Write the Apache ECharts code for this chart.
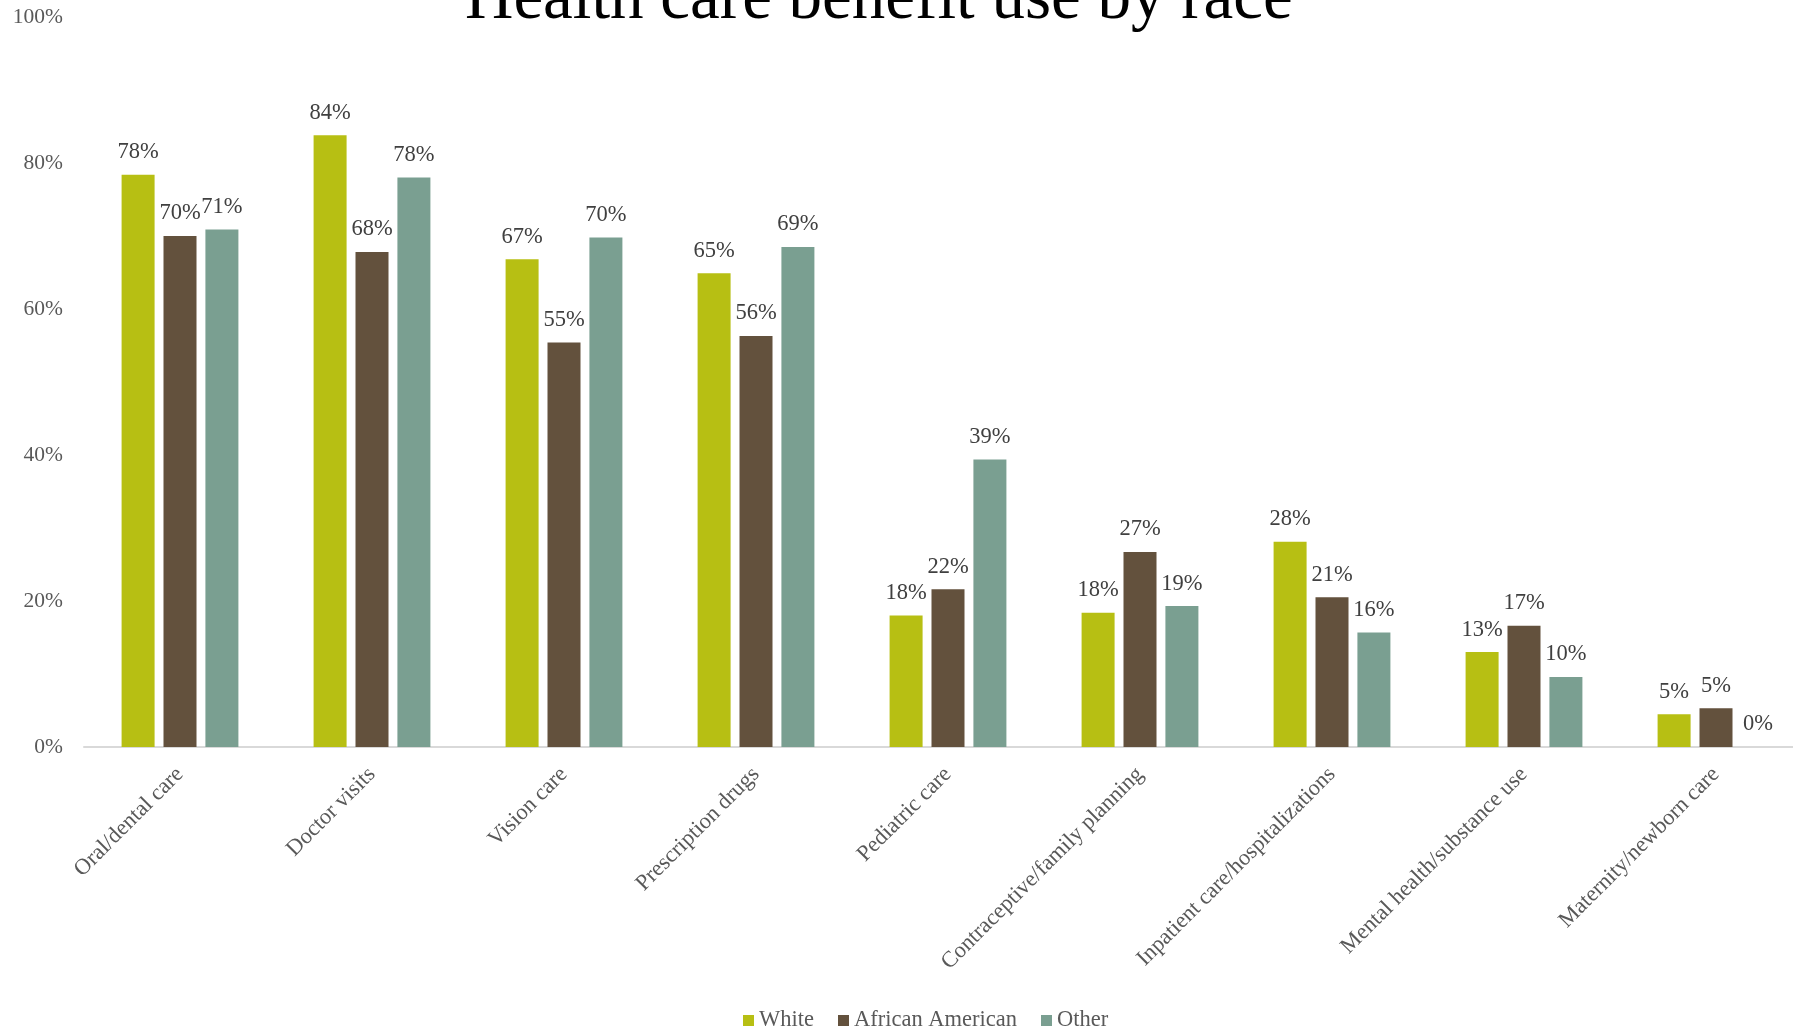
<!DOCTYPE html>
<html>
<head>
<meta charset="utf-8">
<script src="https://cdn.jsdelivr.net/npm/echarts@6/dist/echarts.min.js"></script>
<style>
html,body{margin:0;padding:0;background:#fff;}
#chart{width:1793px;height:1029px;}
</style>
</head>
<body>
<div id="chart"></div>
<script>
const categories = ["Oral/dental care","Doctor visits","Vision care","Prescription drugs","Pediatric care","Contraceptive/family planning","Inpatient care/hospitalizations","Mental health/substance use","Maternity/newborn care"];
const seriesNames = ["White","African American","Other"];
const white = [78.4, 83.8, 66.8, 64.9, 18.0, 18.4, 28.1, 13.0, 4.5];
const africanAmerican = [70.0, 67.8, 55.4, 56.3, 21.6, 26.7, 20.5, 16.6, 5.3];
const other = [70.9, 78.0, 69.8, 68.5, 39.4, 19.3, 15.7, 9.6, 0];
const colors = ["#b7bf13", "#63513d", "#7a9f91"];
const yTicks = [0, 20, 40, 60, 80, 100];

const FONT = "Liberation Serif";
const chart = echarts.init(document.getElementById('chart'));
const mk = (name, data, color) => ({
  name, type: 'bar', data, barWidth: 33, barGap: '27%',
  itemStyle: { color },
  label: { show: true, position: 'top', distance: 11, color: '#404040', fontFamily: FONT, fontSize: 22.5,
    formatter: p => Math.round(p.value) + '%' }
});
chart.setOption({
  animation: false,
  color: colors,
  title: { text: 'Health care benefit use by race', left: 460, top: -38,
    textStyle: { fontFamily: FONT, fontSize: 67, fontWeight: 'normal', color: '#000' } },
  legend: { top: 1004, left: 738, itemWidth: 11, itemHeight: 11, itemGap: 24,
    icon: 'rect', textStyle: { fontFamily: FONT, fontSize: 22.5, color: '#595959' }, data: seriesNames },
  grid: { left: 84, top: 17, width: 1728, height: 730, containLabel: false, outerBoundsMode: 'none' },
  xAxis: { type: 'category', data: categories,
    axisLine: { lineStyle: { color: '#d9d9d9', width: 2 } }, axisTick: { show: false },
    axisLabel: { rotate: 45, interval: 0, margin: 24, color: '#595959', fontFamily: FONT, fontSize: 22.5 } },
  yAxis: { type: 'value', min: yTicks[0], max: yTicks[yTicks.length-1], interval: 20,
    splitLine: { show: false }, axisLine: { show: false }, axisTick: { show: false },
    axisLabel: { margin: 21, color: '#595959', fontFamily: FONT, fontSize: 21.5, formatter: '{value}%' } },
  series: [mk(seriesNames[0], white, colors[0]), mk(seriesNames[1], africanAmerican, colors[1]), mk(seriesNames[2], other, colors[2])]
});
</script>
</body>
</html>
